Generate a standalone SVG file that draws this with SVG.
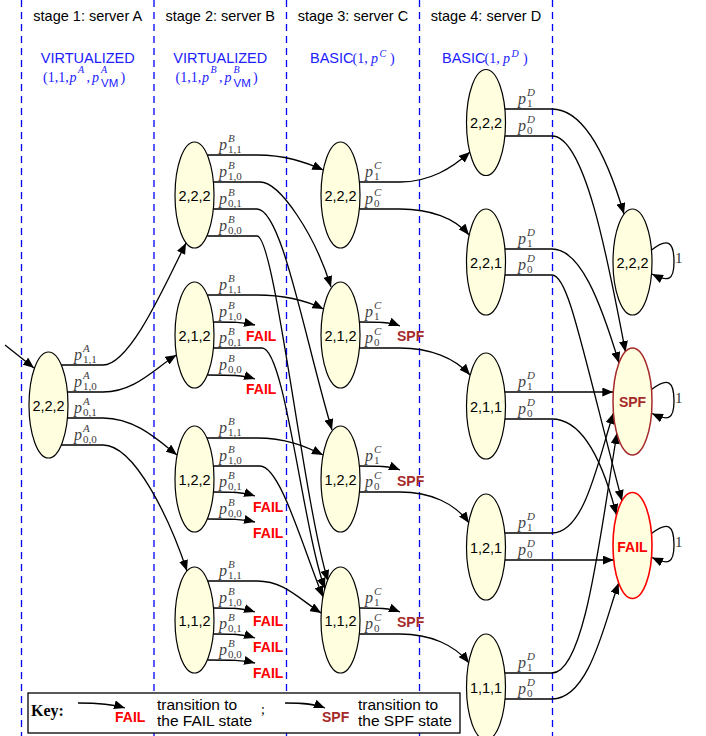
<svg xmlns="http://www.w3.org/2000/svg" width="706" height="736" viewBox="0 0 706 736">
<defs>
<marker id="ah" viewBox="0 0 11 9" refX="11" refY="4.5" markerWidth="11" markerHeight="9" orient="auto" markerUnits="userSpaceOnUse"><path d="M0,0 L11,4.5 L0,9 z" fill="#000"/></marker>
<style>
.dash{stroke:#0000ff;stroke-width:1.3;stroke-dasharray:7 5;fill:none}
.e{fill:none;stroke:#000;stroke-width:1.3;marker-end:url(#ah)}
.nd{fill:#ffffdf;stroke:#000;stroke-width:1.2}
.nl{font-family:"Liberation Sans",Arial,sans-serif;font-size:14.5px;text-anchor:middle;fill:#000}
.hd{font-family:"Liberation Sans",Arial,sans-serif;font-size:14.5px;text-anchor:middle;fill:#000}
.bl{font-family:"Liberation Sans",Arial,sans-serif;font-size:14.5px;fill:#2020ff}
.bm{font-family:"Liberation Serif","Times New Roman",serif;font-size:14px;fill:#2020ff}
.fail{font-family:"Liberation Sans",Arial,sans-serif;font-size:14px;font-weight:bold;fill:#ff0000}
.spf{font-family:"Liberation Sans",Arial,sans-serif;font-size:14px;font-weight:bold;fill:#a52a2a}
.lab{font-family:"Liberation Serif","Times New Roman",serif;fill:#404040}
.p{font-size:16px;font-style:italic}
.si{font-size:11px;font-style:italic}
.sb{font-size:11px}
.one{font-family:"Liberation Serif","Times New Roman",serif;font-size:15px;fill:#333}
.kt{font-family:"Liberation Sans",Arial,sans-serif;font-size:15.5px;fill:#000}
</style>
</defs>
<rect width="706" height="736" fill="#fff"/>
<g id="grid">
<line class="dash" x1="21.5" y1="0" x2="21.5" y2="736"/>
<line class="dash" x1="154" y1="0" x2="154" y2="736"/>
<line class="dash" x1="286.5" y1="0" x2="286.5" y2="736"/>
<line class="dash" x1="419.5" y1="0" x2="419.5" y2="736"/>
<line class="dash" x1="552.5" y1="0" x2="552.5" y2="736"/>
</g>
<g id="headers">
<text class="hd" x="87.75" y="21">stage 1: server A</text>
<text class="hd" x="220.25" y="21">stage 2: server B</text>
<text class="hd" x="353" y="21">stage 3: server C</text>
<text class="hd" x="486" y="21">stage 4: server D</text>
<text class="bl" x="87.75" y="62.5" text-anchor="middle">VIRTUALIZED</text>
<text class="bl" x="220.25" y="62.5" text-anchor="middle">VIRTUALIZED</text>
<text class="bm"><tspan x="43" y="82">(1,1,</tspan><tspan x="69.5" y="82" font-style="italic">p</tspan><tspan x="78" y="73" font-size="10px" font-style="italic">A</tspan><tspan x="86.5" y="82">,</tspan><tspan x="92" y="82" font-style="italic">p</tspan><tspan x="101" y="73" font-size="10px" font-style="italic">A</tspan><tspan x="101" y="86.5" font-size="11.5px" font-family="Liberation Sans, Arial, sans-serif">VM</tspan><tspan x="120.5" y="82">)</tspan></text>
<text class="bm"><tspan x="175.5" y="82">(1,1,</tspan><tspan x="202" y="82" font-style="italic">p</tspan><tspan x="210.5" y="73" font-size="10px" font-style="italic">B</tspan><tspan x="219" y="82">,</tspan><tspan x="224.5" y="82" font-style="italic">p</tspan><tspan x="233.5" y="73" font-size="10px" font-style="italic">B</tspan><tspan x="233.5" y="86.5" font-size="11.5px" font-family="Liberation Sans, Arial, sans-serif">VM</tspan><tspan x="253" y="82">)</tspan></text>
<text class="bl" x="310" y="62.5" font-size="13.5px">BASIC</text>
<text class="bm"><tspan x="352.5" y="62.5">(1,</tspan><tspan x="371" y="62.5" font-style="italic">p</tspan><tspan x="379.5" y="57" font-size="10px" font-style="italic">C</tspan><tspan x="390" y="62.5">)</tspan></text>
<text class="bl" x="442" y="62.5" font-size="13.5px">BASIC</text>
<text class="bm"><tspan x="484.5" y="62.5">(1,</tspan><tspan x="503" y="62.5" font-style="italic">p</tspan><tspan x="511.5" y="57" font-size="10px" font-style="italic">D</tspan><tspan x="523" y="62.5">)</tspan></text>
</g>
<g id="connectors">
<path class="e" d="M5,345 L34,368"/>
<path class="e" d="M61.3,365 H103 C130,365 165,285 186,243"/>
<path class="e" d="M67.4,392 H103 C135,392 155,368 176.5,355"/>
<path class="e" d="M67.4,418 H103 C135,418 158,440 177,455"/>
<path class="e" d="M61.3,445 H103 C135,445 170,520 187,571"/>
<path class="e" d="M207.3,155 H257 C285,155 305,162 323.3,170"/>
<path class="e" d="M213.4,182 H260 C280,182 315,235 331,287"/>
<path class="e" d="M213.4,209 H257 C282,209 305,340 332,430"/>
<path class="e" d="M207.3,236 H257 C275,236 303,500 328,581"/>
<path class="e" d="M207.3,295 H257 C285,295 305,300 323.5,309"/>
<path class="e" d="M213.4,322 C232,322 243,322 255,325"/>
<path class="e" d="M213.4,348 H262 C285,348 303,530 325,589"/>
<path class="e" d="M207.3,375 C230,375 243,375 255,379"/>
<path class="e" d="M207,438 H257 C285,438 305,446 323,455"/>
<path class="e" d="M213.4,466 H260 C280,466 302,545 323,597"/>
<path class="e" d="M213.4,492 C232,492 243,492 255,496"/>
<path class="e" d="M207.3,519 C230,519 243,519 255,522"/>
<path class="e" d="M207.5,581 H257 C285,581 300,600 321.2,613"/>
<path class="e" d="M213.5,608 C232,608 243,608 255,612"/>
<path class="e" d="M213.4,634 C232,634 243,634 255,638"/>
<path class="e" d="M207.3,660 C230,660 243,660 255,663"/>
<path class="e" d="M359.4,182 H400 C430,182 452,168 470,152"/>
<path class="e" d="M359.3,209 H400 C430,209 455,218 469,235"/>
<path class="e" d="M359.4,322 C378,322 390,322 400,326"/>
<path class="e" d="M359.3,348 H400 C430,348 455,358 470,375"/>
<path class="e" d="M359.4,466 C378,466 390,466 400,470"/>
<path class="e" d="M359.3,492 H400 C430,492 455,503 469,523"/>
<path class="e" d="M359.4,608 C378,608 390,608 400,612"/>
<path class="e" d="M359.3,634 H400 C430,634 455,645 469,663"/>
<path class="e" d="M505,109 H552 C585,109 608,160 624,214"/>
<path class="e" d="M505,136 H552 C585,136 608,260 625.5,352"/>
<path class="e" d="M505,249 H552 C580,249 600,300 619,363"/>
<path class="e" d="M505,275 H552 C568,275 580,340 622,501"/>
<path class="e" d="M505,392 H613.3"/>
<path class="e" d="M505,419 H552 C585,419 605,470 616.5,515"/>
<path class="e" d="M505,533 H552 C585,533 598,460 613.5,413"/>
<path class="e" d="M505,560 H613.7"/>
<path class="e" d="M505,673 H552 C585,673 600,535 617,433"/>
<path class="e" d="M505,699 H552 C590,699 605,620 618.7,583"/>
<path class="e" d="M651.5,250 C668,237 674,242 674,262 C674,281 668,282 652,274"/>
<path class="e" d="M651.5,389.5 C668,377 674,381 674,401 C674,420 668,421 652,413.5"/>
<path class="e" d="M651.5,533.5 C668,521 674,525 674,545 C674,564 668,565 652,557.5"/>
</g>
<g id="edge-labels" class="lab">
<text><tspan class="p" x="74" y="360">p</tspan><tspan class="si" x="83" y="352">A</tspan><tspan class="sb" x="83" y="362.5">1,1</tspan></text>
<text><tspan class="p" x="74" y="387">p</tspan><tspan class="si" x="83" y="379">A</tspan><tspan class="sb" x="83" y="389.5">1,0</tspan></text>
<text><tspan class="p" x="74" y="413">p</tspan><tspan class="si" x="83" y="405">A</tspan><tspan class="sb" x="83" y="415.5">0,1</tspan></text>
<text><tspan class="p" x="74" y="440">p</tspan><tspan class="si" x="83" y="432">A</tspan><tspan class="sb" x="83" y="442.5">0,0</tspan></text>

<text><tspan class="p" x="219" y="150">p</tspan><tspan class="si" x="228" y="142">B</tspan><tspan class="sb" x="228" y="152.5">1,1</tspan></text>
<text><tspan class="p" x="219" y="177">p</tspan><tspan class="si" x="228" y="169">B</tspan><tspan class="sb" x="228" y="179.5">1,0</tspan></text>
<text><tspan class="p" x="219" y="204">p</tspan><tspan class="si" x="228" y="196">B</tspan><tspan class="sb" x="228" y="206.5">0,1</tspan></text>
<text><tspan class="p" x="219" y="231">p</tspan><tspan class="si" x="228" y="223">B</tspan><tspan class="sb" x="228" y="233.5">0,0</tspan></text>

<text><tspan class="p" x="219" y="290">p</tspan><tspan class="si" x="228" y="282">B</tspan><tspan class="sb" x="228" y="292.5">1,1</tspan></text>
<text><tspan class="p" x="219" y="317">p</tspan><tspan class="si" x="228" y="309">B</tspan><tspan class="sb" x="228" y="319.5">1,0</tspan></text>
<text><tspan class="p" x="219" y="343">p</tspan><tspan class="si" x="228" y="335">B</tspan><tspan class="sb" x="228" y="345.5">0,1</tspan></text>
<text><tspan class="p" x="219" y="370">p</tspan><tspan class="si" x="228" y="362">B</tspan><tspan class="sb" x="228" y="372.5">0,0</tspan></text>

<text><tspan class="p" x="219" y="433">p</tspan><tspan class="si" x="228" y="425">B</tspan><tspan class="sb" x="228" y="435.5">1,1</tspan></text>
<text><tspan class="p" x="219" y="461">p</tspan><tspan class="si" x="228" y="453">B</tspan><tspan class="sb" x="228" y="463.5">1,0</tspan></text>
<text><tspan class="p" x="219" y="487">p</tspan><tspan class="si" x="228" y="479">B</tspan><tspan class="sb" x="228" y="489.5">0,1</tspan></text>
<text><tspan class="p" x="219" y="514">p</tspan><tspan class="si" x="228" y="506">B</tspan><tspan class="sb" x="228" y="516.5">0,0</tspan></text>

<text><tspan class="p" x="219" y="576">p</tspan><tspan class="si" x="228" y="568">B</tspan><tspan class="sb" x="228" y="578.5">1,1</tspan></text>
<text><tspan class="p" x="219" y="603">p</tspan><tspan class="si" x="228" y="595">B</tspan><tspan class="sb" x="228" y="605.5">1,0</tspan></text>
<text><tspan class="p" x="219" y="629">p</tspan><tspan class="si" x="228" y="621">B</tspan><tspan class="sb" x="228" y="631.5">0,1</tspan></text>
<text><tspan class="p" x="219" y="655">p</tspan><tspan class="si" x="228" y="647">B</tspan><tspan class="sb" x="228" y="657.5">0,0</tspan></text>

<text><tspan class="p" x="365" y="177">p</tspan><tspan class="si" x="374" y="169">C</tspan><tspan class="sb" x="374" y="179.5">1</tspan></text>
<text><tspan class="p" x="365" y="204">p</tspan><tspan class="si" x="374" y="196">C</tspan><tspan class="sb" x="374" y="206.5">0</tspan></text>
<text><tspan class="p" x="365" y="317">p</tspan><tspan class="si" x="374" y="309">C</tspan><tspan class="sb" x="374" y="319.5">1</tspan></text>
<text><tspan class="p" x="365" y="343">p</tspan><tspan class="si" x="374" y="335">C</tspan><tspan class="sb" x="374" y="345.5">0</tspan></text>
<text><tspan class="p" x="365" y="461">p</tspan><tspan class="si" x="374" y="453">C</tspan><tspan class="sb" x="374" y="463.5">1</tspan></text>
<text><tspan class="p" x="365" y="487">p</tspan><tspan class="si" x="374" y="479">C</tspan><tspan class="sb" x="374" y="489.5">0</tspan></text>
<text><tspan class="p" x="365" y="603">p</tspan><tspan class="si" x="374" y="595">C</tspan><tspan class="sb" x="374" y="605.5">1</tspan></text>
<text><tspan class="p" x="365" y="629">p</tspan><tspan class="si" x="374" y="621">C</tspan><tspan class="sb" x="374" y="631.5">0</tspan></text>

<text><tspan class="p" x="518" y="104">p</tspan><tspan class="si" x="527" y="96">D</tspan><tspan class="sb" x="527" y="106.5">1</tspan></text>
<text><tspan class="p" x="518" y="131">p</tspan><tspan class="si" x="527" y="123">D</tspan><tspan class="sb" x="527" y="133.5">0</tspan></text>
<text><tspan class="p" x="518" y="244">p</tspan><tspan class="si" x="527" y="236">D</tspan><tspan class="sb" x="527" y="246.5">1</tspan></text>
<text><tspan class="p" x="518" y="270">p</tspan><tspan class="si" x="527" y="262">D</tspan><tspan class="sb" x="527" y="272.5">0</tspan></text>
<text><tspan class="p" x="518" y="387">p</tspan><tspan class="si" x="527" y="379">D</tspan><tspan class="sb" x="527" y="389.5">1</tspan></text>
<text><tspan class="p" x="518" y="414">p</tspan><tspan class="si" x="527" y="406">D</tspan><tspan class="sb" x="527" y="416.5">0</tspan></text>
<text><tspan class="p" x="518" y="528">p</tspan><tspan class="si" x="527" y="520">D</tspan><tspan class="sb" x="527" y="530.5">1</tspan></text>
<text><tspan class="p" x="518" y="555">p</tspan><tspan class="si" x="527" y="547">D</tspan><tspan class="sb" x="527" y="557.5">0</tspan></text>
<text><tspan class="p" x="518" y="668">p</tspan><tspan class="si" x="527" y="660">D</tspan><tspan class="sb" x="527" y="670.5">1</tspan></text>
<text><tspan class="p" x="518" y="694">p</tspan><tspan class="si" x="527" y="686">D</tspan><tspan class="sb" x="527" y="696.5">0</tspan></text>

<text class="one" x="675" y="263">1</text>
<text class="one" x="675" y="402.5">1</text>
<text class="one" x="675" y="547">1</text>
</g>
<g id="terminals">
<text class="fail" x="246" y="341">FAIL</text>
<text class="fail" x="246" y="394">FAIL</text>
<text class="fail" x="253" y="512">FAIL</text>
<text class="fail" x="253" y="538">FAIL</text>
<text class="fail" x="253" y="626">FAIL</text>
<text class="fail" x="253" y="652">FAIL</text>
<text class="fail" x="253" y="678">FAIL</text>
<text class="spf" x="397" y="341">SPF</text>
<text class="spf" x="397" y="486">SPF</text>
<text class="spf" x="397" y="627">SPF</text>
</g>
<g id="n1-222"><ellipse class="nd" cx="48.5" cy="405" rx="19.5" ry="53"/><text class="nl" x="48.5" y="411">2,2,2</text></g>
<g id="n2-222"><ellipse class="nd" cx="194.5" cy="195" rx="19.5" ry="53"/><text class="nl" x="194.5" y="201">2,2,2</text></g>
<g id="n2-212"><ellipse class="nd" cx="194.5" cy="335" rx="19.5" ry="53"/><text class="nl" x="194.5" y="341">2,1,2</text></g>
<g id="n2-122"><ellipse class="nd" cx="194.5" cy="479" rx="19.5" ry="53"/><text class="nl" x="194.5" y="485">1,2,2</text></g>
<g id="n2-112"><ellipse class="nd" cx="194.5" cy="620" rx="19.5" ry="53"/><text class="nl" x="194.5" y="626">1,1,2</text></g>
<g id="n3-222"><ellipse class="nd" cx="340.5" cy="195" rx="19.5" ry="53"/><text class="nl" x="340.5" y="201">2,2,2</text></g>
<g id="n3-212"><ellipse class="nd" cx="340.5" cy="335" rx="19.5" ry="53"/><text class="nl" x="340.5" y="341">2,1,2</text></g>
<g id="n3-122"><ellipse class="nd" cx="340.5" cy="479" rx="19.5" ry="53"/><text class="nl" x="340.5" y="485">1,2,2</text></g>
<g id="n3-112"><ellipse class="nd" cx="340.5" cy="620" rx="19.5" ry="53"/><text class="nl" x="340.5" y="626">1,1,2</text></g>
<g id="n4-222"><ellipse class="nd" cx="486" cy="122.5" rx="19.5" ry="53"/><text class="nl" x="486" y="128">2,2,2</text></g>
<g id="n4-221"><ellipse class="nd" cx="486" cy="262" rx="19.5" ry="53"/><text class="nl" x="486" y="267.5">2,2,1</text></g>
<g id="n4-211"><ellipse class="nd" cx="486" cy="406" rx="19.5" ry="53"/><text class="nl" x="486" y="411.5">2,1,1</text></g>
<g id="n4-121"><ellipse class="nd" cx="486" cy="547" rx="19.5" ry="53"/><text class="nl" x="486" y="552.5">1,2,1</text></g>
<g id="n4-111"><ellipse class="nd" cx="486" cy="687" rx="19.5" ry="53"/><text class="nl" x="486" y="692.5">1,1,1</text></g>
<g id="n5-222"><ellipse class="nd" cx="632.5" cy="262" rx="19.5" ry="53"/><text class="nl" x="632.5" y="267.5">2,2,2</text></g>
<g id="n5-spf"><ellipse class="nd" cx="632.5" cy="401.5" rx="19.5" ry="53.5" style="stroke:#a52a2a;stroke-width:1.5"/><text class="spf" x="632.5" y="407" text-anchor="middle">SPF</text></g>
<g id="n5-fail"><ellipse class="nd" cx="632.5" cy="545.5" rx="19.5" ry="53" style="stroke:#ff0000;stroke-width:1.6"/><text class="fail" x="632.5" y="551.5" text-anchor="middle">FAIL</text></g>
<g id="key">
<rect x="28" y="693" width="432" height="40" fill="#fff" stroke="#000" stroke-width="1.3"/>
<text x="31" y="716" font-family="Liberation Serif, Times New Roman, serif" font-size="16px" font-weight="bold">Key:</text>
<path class="e" d="M78,703 C100,703 112,704 125,708"/>
<text class="fail" x="115" y="722">FAIL</text>
<text class="kt" x="157" y="709.5">transition to</text>
<text class="kt" x="157" y="725.5">the FAIL state</text>
<text x="261" y="714" font-family="Liberation Serif, Times New Roman, serif" font-size="14px">;</text>
<path class="e" d="M285,703 C305,703 315,704 325,708"/>
<text class="spf" x="322" y="722">SPF</text>
<text class="kt" x="358" y="709.5">transition to</text>
<text class="kt" x="358" y="725.5">the SPF state</text>
</g>
</svg>
